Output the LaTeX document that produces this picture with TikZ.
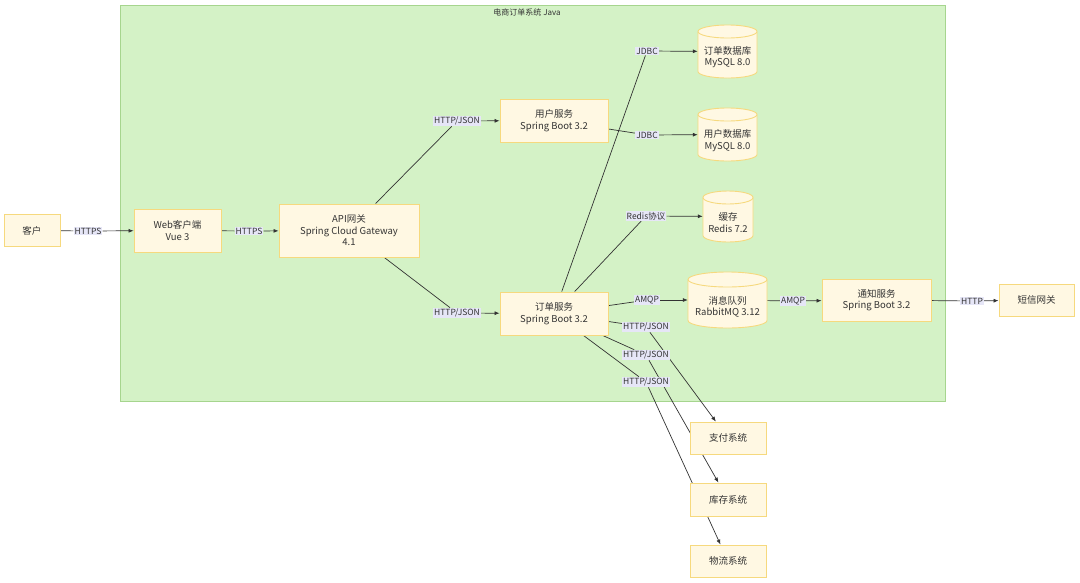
\documentclass[tikz,border=0pt]{standalone}
\usepackage{fontspec}
\setmainfont{Noto Sans CJK SC}
\usetikzlibrary{arrows.meta}
\definecolor{clfill}{HTML}{D4F2C6}
\definecolor{cldraw}{HTML}{A6D58E}
\definecolor{bxfill}{HTML}{FFF8E3}
\definecolor{bxdraw}{HTML}{F6D97E}
\definecolor{lbfill}{HTML}{E6E6F7}
\definecolor{ink}{HTML}{333333}
\pgfdeclarelayer{bg}\pgfdeclarelayer{edges}\pgfsetlayers{bg,edges,main}
\tikzset{
 box/.style={draw=bxdraw, fill=bxfill, line width=0.9pt, align=center, font=\fontsize{9.5}{11.5}\selectfont, text=ink, inner sep=0pt},
 cyltext/.style={align=center, font=\fontsize{9.5}{11.5}\selectfont, text=ink, inner sep=0pt},
 cylbody/.style={draw=bxdraw, fill=bxfill, line width=0.9pt},
 elabel/.style={fill=lbfill, inner sep=1pt, font=\fontsize{8.5}{9}\selectfont, text=ink},
 conn/.style={draw=ink, line width=0.7pt},
 arr/.style={conn, -{Latex[length=5pt,width=4pt]}},
}
% name, cx, cy(px), w, h, ry, text
\newcommand{\dbcyl}[7]{%
 \pgfmathsetmacro{\cL}{#2-#4/2}\pgfmathsetmacro{\cR}{#2+#4/2}%
 \pgfmathsetmacro{\cT}{-#3+#5/2-#6}\pgfmathsetmacro{\cB}{-#3-#5/2+#6}%
 \pgfmathsetmacro{\cRx}{#4/2}\pgfmathsetmacro{\cTy}{-#3-#6*0.9}%
 \path[cylbody] (\cL,\cT) -- (\cL,\cB) arc[start angle=180,end angle=360,x radius=\cRx pt,y radius=#6pt] -- (\cR,\cT) arc[start angle=0,end angle=180,x radius=\cRx pt,y radius=#6pt] -- cycle;
 \draw[draw=bxdraw, line width=0.9pt] (\cL,\cT) arc[start angle=180,end angle=360,x radius=\cRx pt,y radius=#6pt];
 \node[inner sep=0pt, minimum width=#4pt, minimum height=#5pt] (#1) at (#2,-#3) {};
 \node[cyltext] at (#2,\cTy) {#7};
}
\begin{document}
\begin{tikzpicture}[x=1pt,y=1pt]
\useasboundingbox (0,0) rectangle (1080,-582);
\begin{pgfonlayer}{bg}
\fill[white] (0,0) rectangle (1080,-582);
\draw[fill=clfill, draw=cldraw, line width=0.9pt] (120,-5) rectangle (945.5,-401.5);
\end{pgfonlayer}
\node[font=\fontsize{8}{9}\selectfont, text=ink] (title) at (527,-12) {电商订单系统 Java};

% boxes
\node[box, minimum width=56pt, minimum height=32pt] (kehu) at (32,-230.5) {客户};
\node[box, minimum width=87pt, minimum height=43pt] (web) at (177.5,-230.5) {Web客户端\\Vue 3};
\node[box, minimum width=140pt, minimum height=53pt] (api) at (349,-230.5) {API网关\\Spring Cloud Gateway\\4.1};
\node[box, minimum width=108pt, minimum height=43pt] (user) at (554,-120.5) {用户服务\\Spring Boot 3.2};
\node[box, minimum width=108pt, minimum height=43pt] (order) at (554,-313.5) {订单服务\\Spring Boot 3.2};
\node[box, minimum width=109pt, minimum height=42pt] (notify) at (876.5,-300) {通知服务\\Spring Boot 3.2};
\node[box, minimum width=75pt, minimum height=32pt] (sms) at (1036.5,-300) {短信网关};
\node[box, minimum width=76pt, minimum height=32pt] (pay) at (728,-438) {支付系统};
\node[box, minimum width=76pt, minimum height=33pt] (stock) at (728,-499.5) {库存系统};
\node[box, minimum width=76pt, minimum height=32pt] (ship) at (728,-561) {物流系统};

% cylinders
\dbcyl{orderdb}{727.5}{51.5}{59}{53}{6.5}{订单数据库\\MySQL 8.0}
\dbcyl{userdb}{727.5}{134.5}{59}{53}{6.5}{用户数据库\\MySQL 8.0}
\dbcyl{cache}{728}{216.5}{50}{51}{6.5}{缓存\\Redis 7.2}
\dbcyl{mq}{727.5}{300}{79}{56}{7.5}{消息队列\\RabbitMQ 3.12}

% edge labels
\node[elabel] (l1) at (88,-231) {HTTPS};
\node[elabel] (l2) at (249,-231) {HTTPS};
\node[elabel] (l3) at (457,-121) {HTTP/JSON};
\node[elabel] (l4) at (457,-313) {HTTP/JSON};
\node[elabel] (l5) at (647,-135) {JDBC};
\node[elabel] (l6) at (647,-51) {JDBC};
\node[elabel] (l7) at (646,-216) {Redis协议};
\node[elabel] (l8) at (647,-300) {AMQP};
\node[elabel] (l9) at (793,-301) {AMQP};
\node[elabel] (l10) at (972,-301) {HTTP};
\node[elabel] (l11) at (646,-327) {HTTP/JSON};
\node[elabel] (l12) at (646,-355) {HTTP/JSON};
\node[elabel] (l13) at (646,-382) {HTTP/JSON};

\begin{pgfonlayer}{edges}
\draw[conn] (kehu) -- (l1); \draw[arr] (l1) -- (web);
\draw[conn] (web) -- (l2); \draw[arr] (l2) -- (api);
\draw[conn] (api) -- (l3); \draw[arr] (l3) -- (user);
\draw[conn] (api) -- (l4); \draw[arr] (l4) -- (order);
\draw[conn] (user) -- (l5); \draw[arr] (l5) -- (userdb);
\draw[conn] (order) -- (l6); \draw[arr] (l6) -- (orderdb);
\draw[conn] (order) -- (l7); \draw[arr] (l7) -- (cache);
\draw[conn] (order) -- (l8); \draw[arr] (l8) -- (mq);
\draw[conn] (mq) -- (l9); \draw[arr] (l9) -- (notify);
\draw[conn] (notify) -- (l10); \draw[arr] (l10) -- (sms);
\draw[conn] (order) -- (l11); \draw[arr] (l11) -- (pay);
\draw[conn] (order) -- (l12); \draw[arr] (l12) -- (stock);
\draw[conn] (order) -- (l13); \draw[arr] (l13) -- (ship);
\end{pgfonlayer}
\end{tikzpicture}
\end{document}
